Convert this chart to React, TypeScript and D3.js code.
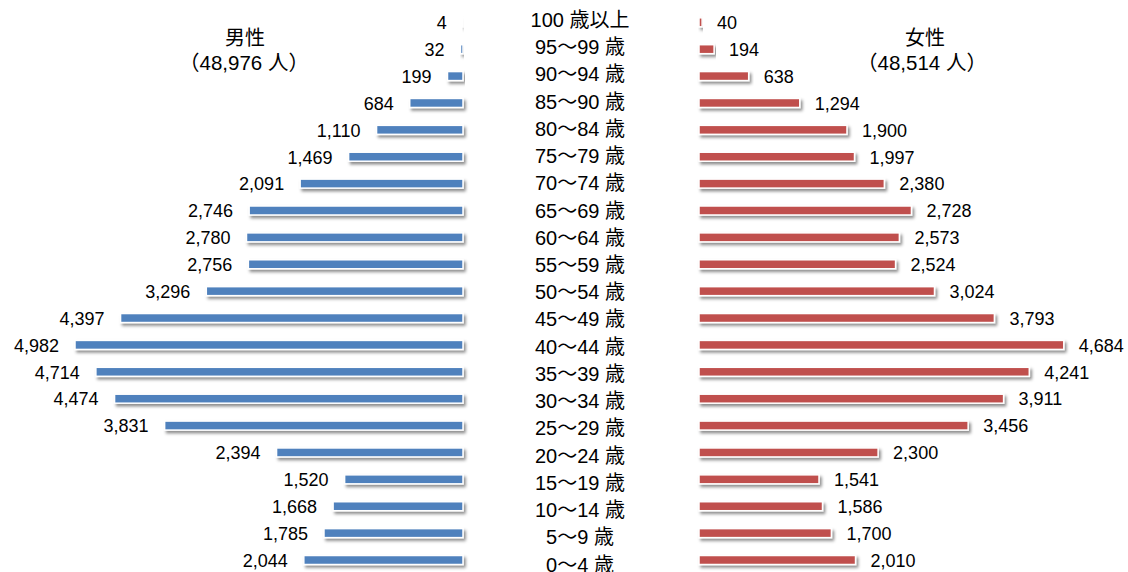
import React from "react";
import * as d3 from "d3";

const ageGroups = [
  "100 歳以上", "95～99 歳", "90～94 歳", "85～90 歳", "80～84 歳", "75～79 歳",
  "70～74 歳", "65～69 歳", "60～64 歳", "55～59 歳", "50～54 歳", "45～49 歳",
  "40～44 歳", "35～39 歳", "30～34 歳", "25～29 歳", "20～24 歳", "15～19 歳",
  "10～14 歳", "5～9 歳", "0～4 歳",
];
const maleValues = [4, 32, 199, 684, 1110, 1469, 2091, 2746, 2780, 2756, 3296, 4397, 4982, 4714, 4474, 3831, 2394, 1520, 1668, 1785, 2044];
const femaleValues = [40, 194, 638, 1294, 1900, 1997, 2380, 2728, 2573, 2524, 3024, 3793, 4684, 4241, 3911, 3456, 2300, 1541, 1586, 1700, 2010];
const maleTitle = ["男性", "（48,976 人）"];
const femaleTitle = ["女性", "（48,514 人）"];

const W = 1128;
const H = 572;
const FONT = "'Liberation Sans', Arial, 'Noto Sans CJK JP', sans-serif";

export default function App() {
  const idx = ageGroups.map((_, i) => i);
  const yBar = d3.scalePoint<number>().domain(idx).range([22.3, 560]);
  const yLab = d3.scalePoint<number>().domain(idx).range([20, 564.5]);
  const maxV = 4982;
  const xL = d3.scaleLinear().domain([0, maxV]).range([463, 75]);
  const xR = d3.scaleLinear().domain([0, maxV]).range([699, 699 + 388]);
  const fmt = d3.format(",");
  const bh = 9;

  return (
    <svg width={W} height={H} style={{ position: "absolute", left: 0, top: 0, background: "#fff" }} fontFamily={FONT}>
      <defs>
        <filter id="sh" x="-10%" y="-60%" width="120%" height="260%">
          <feDropShadow dx="2" dy="2.5" stdDeviation="1.5" floodColor="#000" floodOpacity="0.45" />
        </filter>
      </defs>
      <rect width={W} height={H} fill="#fff" />
      {idx.map((i) => {
        const y = yBar(i)!;
        const xl = xL(maleValues[i]);
        const xr = xR(femaleValues[i]);
        return (
          <g key={i}>
            <rect x={xl} y={y - bh / 2} width={xL(0) - xl} height={bh} fill="#4F81BD" stroke="#fff" strokeWidth={1.5} filter="url(#sh)" />
            <rect x={xR(0)} y={y - bh / 2} width={xr - xR(0)} height={bh} fill="#C0504D" stroke="#fff" strokeWidth={1.5} filter="url(#sh)" />
            <text x={xl - 16} y={y + 0.8} textAnchor="end" dominantBaseline="central" fontSize={18} fill="#000">{fmt(maleValues[i])}</text>
            <text x={xr + 15} y={y + 0.8} textAnchor="start" dominantBaseline="central" fontSize={18} fill="#000">{fmt(femaleValues[i])}</text>
            <text x={580} y={yLab(i)} textAnchor="middle" dominantBaseline="central" fontSize={20} fill="#000">{ageGroups[i]}</text>
          </g>
        );
      })}
      <text x={245} y={37.5} textAnchor="middle" dominantBaseline="central" fontSize={20}>{maleTitle[0]}</text>
      <text x={244} y={62.5} textAnchor="middle" dominantBaseline="central" fontSize={20.5}>{maleTitle[1]}</text>
      <text x={925} y={37.5} textAnchor="middle" dominantBaseline="central" fontSize={20}>{femaleTitle[0]}</text>
      <text x={922} y={62.5} textAnchor="middle" dominantBaseline="central" fontSize={20.5}>{femaleTitle[1]}</text>
    </svg>
  );
}
